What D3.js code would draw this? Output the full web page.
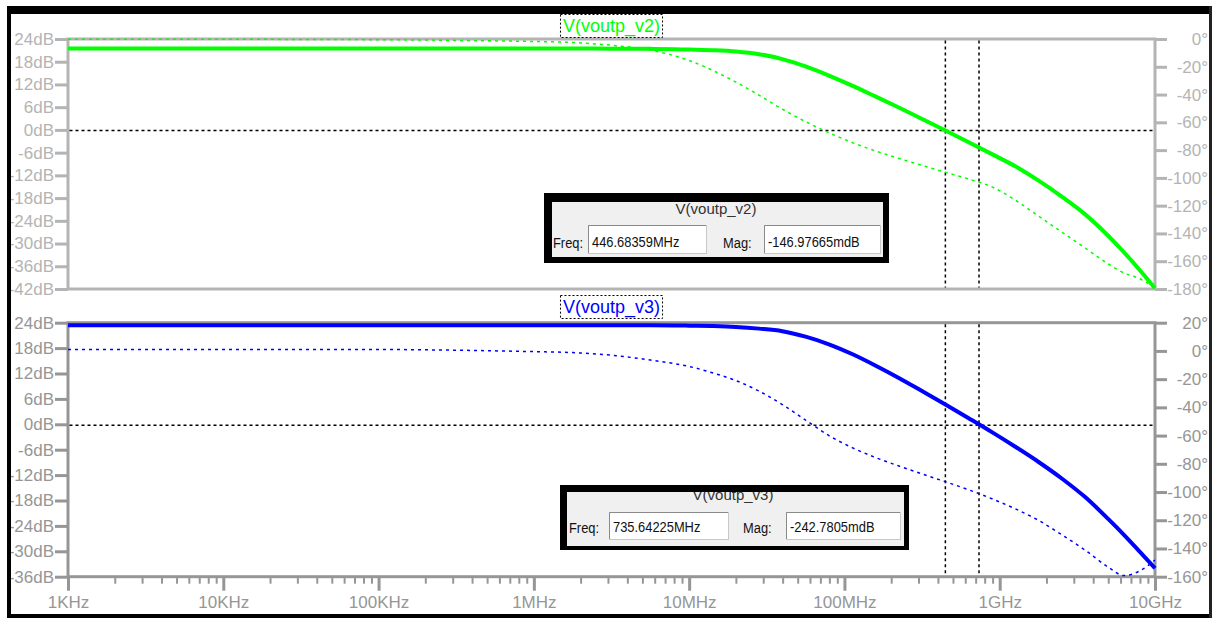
<!DOCTYPE html>
<html>
<head>
<meta charset="utf-8">
<script src="https://cdn.jsdelivr.net/npm/d3@7.9.0/dist/d3.min.js"></script>
<style>
  html, body { margin: 0; padding: 0; background: #fff; }
  svg { display: block; font-family: "Liberation Sans", Arial, sans-serif; }
</style>
</head>
<body>
<svg id="chart" width="1214" height="620"></svg>
<script>
// frequency points (Hz) shared by every trace
const freqs = [1e3, 1e4, 1e5, 3.16e5, 1e6, 1.78e6, 3.16e6, 5.62e6, 1e7, 1.41e7,
  2e7, 2.82e7, 3.98e7, 5.62e7, 7.94e7, 1.12e8, 1.58e8, 2.24e8, 3.16e8, 4.47e8,
  6.31e8, 8.91e8, 1.26e9, 1.78e9, 2.51e9, 3.55e9, 5.01e9, 6.31e9, 7.94e9, 1e10];

// V(voutp_v2): magnitude (dB) and phase (deg)
const magV2 = [21.5, 21.5, 21.5, 21.5, 21.5, 21.5, 21.45, 21.4, 21.25, 21.05,
  20.7, 20.0, 18.7, 16.75, 14.35, 11.7, 8.85, 5.9, 2.9, -0.15,
  -3.25, -6.4, -9.6, -13.4, -17.6, -22.3, -28.0, -32.3, -36.9, -41.8];
const phaseV2 = [-0.1, -0.2, -0.5, -1.0, -1.8, -2.5, -4.5, -8.0, -15.5, -22.5,
  -31.0, -40.5, -50.5, -59.5, -67.5, -74.5, -80.5, -86.0, -91.0, -96.0,
  -100.8, -106.5, -116.0, -127.5, -139.0, -150.5, -162.0, -168.5, -172.5, -179.0];

// V(voutp_v3): magnitude (dB) and phase (deg)
const magV3 = [23.4, 23.4, 23.4, 23.4, 23.4, 23.4, 23.4, 23.4, 23.3, 23.2,
  23.0, 22.6, 22.0, 20.7, 18.9, 16.6, 13.9, 10.95, 7.85, 4.7,
  1.45, -1.85, -5.3, -8.9, -12.8, -17.2, -22.4, -26.1, -30.0, -34.0];
const phaseV3 = [1.0, 1.0, 1.0, 0.5, -0.5, -1.2, -3.0, -6.5, -11.0, -15.5,
  -21.0, -28.5, -38.0, -49.0, -60.0, -68.5, -75.5, -81.5, -87.2, -92.7,
  -98.4, -104.8, -111.9, -120.1, -130.3, -141.2, -153.3, -159.2, -156.0, -148.2];

// axis ticks
const magTicksTop = [24, 18, 12, 6, 0, -6, -12, -18, -24, -30, -36, -42];
const phaseTicksTop = [0, -20, -40, -60, -80, -100, -120, -140, -160, -180];
const magTicksBottom = [24, 18, 12, 6, 0, -6, -12, -18, -24, -30, -36];
const phaseTicksBottom = [20, 0, -20, -40, -60, -80, -100, -120, -140, -160];
const freqTicks = [1e3, 1e4, 1e5, 1e6, 1e7, 1e8, 1e9, 1e10];
const freqLabels = ['1KHz', '10KHz', '100KHz', '1MHz', '10MHz', '100MHz', '1GHz', '10GHz'];

// cursor readouts
const cursorFreqs = [446.68359e6, 735.64225e6];
const cursorMags = [-0.14697665, -0.2427805];
const cursorFreqText = ['446.68359MHz', '735.64225MHz'];
const cursorMagText = ['-146.97665mdB', '-242.7805mdB'];

const svg = d3.select('#chart');
const left = 68;
const right = 1155;
const x = d3.scaleLog().domain([1e3, 1e10]).range([left, right]);

const panels = [
  {
    name: 'V(voutp_v2)', color: '#00ff00', grey: '#b4b4b4',
    top: 39, bottom: 289, titleBase: 32,
    magDomain: [-42, 24], phDomain: [-180, 0],
    magTicks: magTicksTop, phTicks: phaseTicksTop,
    mag: magV2, phase: phaseV2, cursor: 0,
    box: { x: 544, y: 193, w: 345, h: 70, ix: 552, iy: 202, iw: 331, ih: 55,
      titleX: 716, titleY: 214, labelY: 248,
      freqLabelX: 553, freqBox: [588, 225, 118, 28],
      magLabelX: 723, magBox: [764, 225, 116, 28] },
  },
  {
    name: 'V(voutp_v3)', color: '#0000ff', grey: '#969696',
    top: 322.7, bottom: 576.7, titleBase: 313,
    magDomain: [-36, 24], phDomain: [-160, 20],
    magTicks: magTicksBottom, phTicks: phaseTicksBottom,
    mag: magV3, phase: phaseV3, cursor: 1,
    box: { x: 560, y: 485, w: 349, h: 65, ix: 567, iy: 492, iw: 337, ih: 54,
      titleX: 733, titleY: 500, labelY: 533,
      freqLabelX: 569, freqBox: [609, 512, 119, 27],
      magLabelX: 743, magBox: [786, 512, 114, 27] },
  },
];

function styleAxis(g, color, width) {
  g.select('.domain').remove();
  g.selectAll('line').attr('stroke', color).attr('stroke-width', width);
  g.selectAll('text').attr('fill', color).attr('font-size', 17);
}

function drawPanel(p, isLast) {
  const yMag = d3.scaleLinear().domain(p.magDomain).range([p.bottom, p.top]);
  const yPh = d3.scaleLinear().domain(p.phDomain).range([p.bottom, p.top]);

  // plot frame
  svg.append('rect')
    .attr('x', left).attr('y', p.top)
    .attr('width', right - left).attr('height', p.bottom - p.top)
    .attr('fill', 'none').attr('stroke', p.grey).attr('stroke-width', 3);

  const leftAxis = svg.append('g')
    .attr('transform', `translate(${left},0)`)
    .call(d3.axisLeft(yMag).tickValues(p.magTicks).tickSize(13).tickPadding(1)
      .tickFormat((d) => `${d}dB`));
  styleAxis(leftAxis, p.grey, 3);

  const rightAxis = svg.append('g')
    .attr('transform', `translate(${right},0)`)
    .call(d3.axisRight(yPh).tickValues(p.phTicks).tickSize(12)
      .tickFormat((d) => `${d}°`));
  styleAxis(rightAxis, p.grey, 3);
  rightAxis.selectAll('text').attr('text-anchor', 'end').attr('x', 53);

  if (isLast) {
    const minor = x.ticks().filter((t) => !freqTicks.includes(t));
    const minorAxis = svg.append('g')
      .attr('transform', `translate(0,${p.bottom})`)
      .call(d3.axisBottom(x).tickValues(minor).tickSize(7).tickFormat(''));
    styleAxis(minorAxis, p.grey, 2);

    const majorAxis = svg.append('g')
      .attr('transform', `translate(0,${p.bottom})`)
      .call(d3.axisBottom(x).tickValues(freqTicks).tickSize(14).tickPadding(5)
        .tickFormat((d, i) => freqLabels[i]));
    styleAxis(majorAxis, p.grey, 3);
  }

  // cursors
  const dash = '3,3';
  cursorFreqs.forEach((f) => {
    svg.append('line')
      .attr('x1', x(f)).attr('x2', x(f))
      .attr('y1', p.top + 1.5).attr('y2', p.bottom - 1.5)
      .attr('stroke', '#000').attr('stroke-width', 1.5).attr('stroke-dasharray', dash);
  });
  svg.append('line')
    .attr('x1', left + 1.5).attr('x2', right - 1.5)
    .attr('y1', yMag(cursorMags[p.cursor])).attr('y2', yMag(cursorMags[p.cursor]))
    .attr('stroke', '#000').attr('stroke-width', 1.5).attr('stroke-dasharray', dash);

  // traces
  const pts = freqs.map((f, i) => ({ f, mag: p.mag[i], ph: p.phase[i] }));
  const phaseLine = d3.line().x((d) => x(d.f)).y((d) => yPh(d.ph)).curve(d3.curveMonotoneX);
  const magLine = d3.line().x((d) => x(d.f)).y((d) => yMag(d.mag)).curve(d3.curveMonotoneX);

  svg.append('path').datum(pts)
    .attr('d', phaseLine).attr('fill', 'none')
    .attr('stroke', p.color).attr('stroke-width', 1.5).attr('stroke-dasharray', '3,4');
  svg.append('path').datum(pts)
    .attr('d', magLine).attr('fill', 'none')
    .attr('stroke', p.color).attr('stroke-width', 4);

  // trace title with dotted box
  const title = svg.append('text')
    .attr('x', (left + right) / 2).attr('y', p.titleBase)
    .attr('text-anchor', 'middle').attr('font-size', 18)
    .attr('fill', p.color).text(p.name);
  const bb = title.node().getBBox();
  svg.append('rect')
    .attr('x', bb.x - 2.5).attr('y', bb.y - 1.5)
    .attr('width', bb.width + 5).attr('height', bb.height + 2)
    .attr('fill', 'none').attr('stroke', '#000').attr('stroke-dasharray', '2,2');

  drawCursorBox(p);
}

function boxText(g, tx, ty, str, size, scale) {
  g.append('text')
    .attr('transform', `translate(${tx},${ty}) scale(${scale},1)`)
    .attr('font-size', size).attr('fill', '#111').text(str);
}

function inputBox(g, r) {
  const [bx, by, bw, bh] = r;
  g.append('rect').attr('x', bx + 0.5).attr('y', by + 0.5).attr('width', bw).attr('height', bh)
    .attr('fill', '#fff').attr('stroke', '#c8c8c8');
  g.append('path')
    .attr('d', `M${bx + 0.5},${by + bh} V${by + 0.5} H${bx + bw}`)
    .attr('fill', 'none').attr('stroke', '#8a8a8a');
}

function drawCursorBox(p) {
  const b = p.box;
  const g = svg.append('g');
  g.append('rect').attr('x', b.ix).attr('y', b.iy).attr('width', b.iw).attr('height', b.ih)
    .attr('fill', '#f0f0f0');
  g.append('text')
    .attr('x', b.titleX).attr('y', b.titleY).attr('text-anchor', 'middle')
    .attr('font-size', 15).attr('fill', '#333').text(p.name);
  boxText(g, b.freqLabelX, b.labelY, 'Freq:', 15, 0.86);
  boxText(g, b.magLabelX, b.labelY, 'Mag:', 15, 0.86);
  inputBox(g, b.freqBox);
  inputBox(g, b.magBox);
  boxText(g, b.freqBox[0] + 4, b.labelY - 1, cursorFreqText[p.cursor], 15, 0.86);
  boxText(g, b.magBox[0] + 4, b.labelY - 1, cursorMagText[p.cursor], 15, 0.86);
  // thick black border drawn over the edges of the panel
  const t = b.iy - b.y;
  const l = b.ix - b.x;
  const r = b.x + b.w - (b.ix + b.iw);
  const bt = b.y + b.h - (b.iy + b.ih);
  g.append('path')
    .attr('fill', '#000').attr('fill-rule', 'evenodd')
    .attr('d', `M${b.x},${b.y}h${b.w}v${b.h}h${-b.w}Z M${b.x + l},${b.y + t}v${b.h - t - bt}h${b.w - l - r}v${-(b.h - t - bt)}Z`);
}

panels.forEach((p, i) => drawPanel(p, i === panels.length - 1));

// outer window frame
svg.append('rect').attr('x', 0).attr('y', 0).attr('width', 7).attr('height', 620).attr('fill', '#fff');
svg.append('rect').attr('x', 7).attr('y', 6).attr('width', 1205).attr('height', 8).attr('fill', '#000');
svg.append('rect').attr('x', 7).attr('y', 6).attr('width', 4).attr('height', 612).attr('fill', '#000');
svg.append('rect').attr('x', 7).attr('y', 614).attr('width', 1205).attr('height', 4).attr('fill', '#000');
svg.append('rect').attr('x', 1209).attr('y', 6).attr('width', 3).attr('height', 612).attr('fill', '#222');
</script>
</body>
</html>
